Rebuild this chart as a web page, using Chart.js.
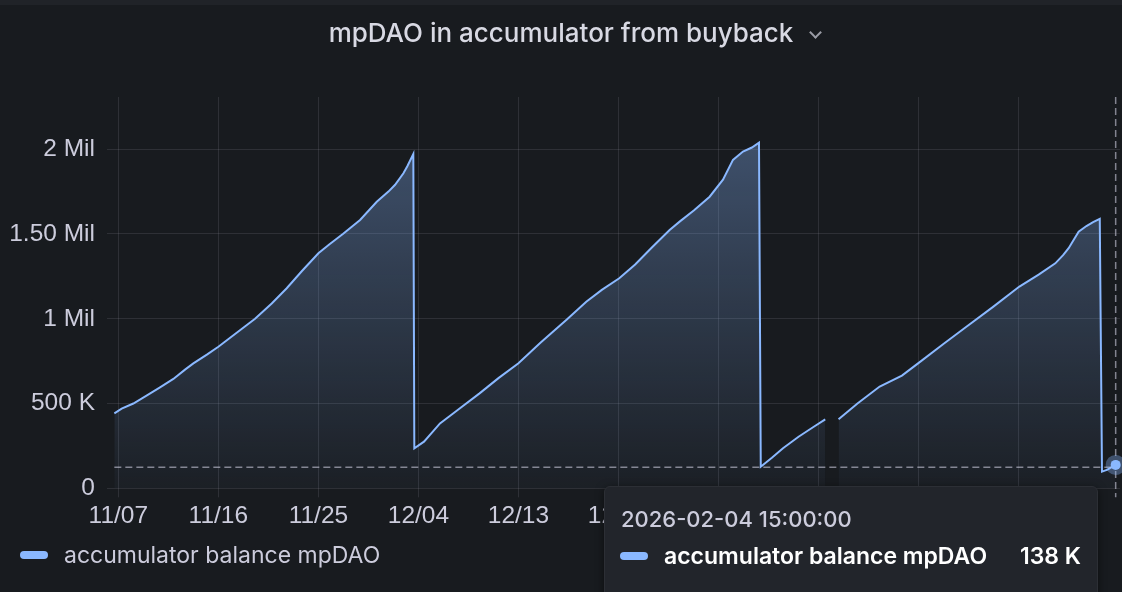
<!DOCTYPE html>
<html>
<head>
<meta charset="utf-8">
<script src="https://cdn.jsdelivr.net/npm/chart.js@4.4.1/dist/chart.umd.min.js"></script>
<style>
html,body{margin:0;padding:0;background:#181b1f;}
#wrap{position:relative;width:1122px;height:592px;overflow:hidden;background:#181b1f;font-family:Inter,"Noto Sans",sans-serif;}
#topbar{position:absolute;left:0;top:0;width:1122px;height:5px;background:#202328;}
#title{position:absolute;left:0;top:16px;width:1122px;text-align:center;color:#d8d9e3;font-size:26px;font-weight:500;line-height:34px;}
#title span{position:relative;}
#chev{position:absolute;right:-27px;top:11px;width:7px;height:7px;border-right:2px solid #9a9ca5;border-bottom:2px solid #9a9ca5;transform:rotate(45deg);}
canvas{position:absolute;left:0;top:0;}
#legend{position:absolute;left:20px;top:540px;height:30px;display:flex;align-items:center;color:#ccccdc;font-size:23px;}
.sw{width:28px;height:8px;border-radius:4px;background:#8ab8ff;margin-right:16px;flex:none;}
#tip{position:absolute;left:604px;top:486px;width:492px;height:120px;background:#22252b;border:1px solid #2c2f35;border-radius:6px;box-shadow:0 2px 8px rgba(0,0,0,0.5);}
#tipDate{position:absolute;left:16px;top:19px;color:#ccccdc;font-size:22px;font-weight:500;}
#tipRow{position:absolute;left:15px;top:55px;width:461px;display:flex;align-items:center;color:#ffffff;font-size:23px;font-weight:600;}
#tipVal{margin-left:auto;}
</style>
</head>
<body>
<div id="wrap">
  <canvas id="c" width="1122" height="592"></canvas>
  <div id="topbar"></div>
  <div id="title"><span>mpDAO in accumulator from buyback<i id="chev"></i></span></div>
  <div id="legend"><div class="sw"></div><span id="legText"></span></div>
  <div id="tip">
    <div id="tipDate"></div>
    <div id="tipRow"><div class="sw"></div><span id="tipName"></span><span id="tipVal"></span></div>
  </div>
</div>
<script>
// ---- data (days since 2025-11-07 00:00) ----
const seriesName = 'accumulator balance mpDAO';
const days = [
  -0.36, 0.3, 1.35, 2.5, 3.75, 4.95, 6.0, 6.75, 8.0, 9.0, 10.5, 12.3, 13.8, 15.15, 16.5, 18.0, 19.0, 20.2, 21.75, 23.25, 24.3, 24.9, 25.65, 26.0, 26.54,
  26.63, 27.5, 28.94, 30.5, 32.5, 34.2, 36.0, 38.0, 40.3, 42.1, 43.5, 45.07, 46.5, 48.0, 49.6, 50.5, 51.8, 53.2, 54.4, 55.3, 56.2, 57.0, 57.64,
  57.8, 58.8, 59.8, 61.2, 62.5, 63.6, 64.2, 64.8, 66.5, 68.5, 70.5, 72.07, 74.2, 76.3, 78.7, 81.07, 82.8, 84.3, 85.0, 85.5, 86.0, 86.4, 87.1, 87.7, 88.3,
  88.5, 89.0, 89.73
];
const balance = [
  442000, 470000, 500000, 545000, 595000, 645000, 700000, 737000, 790000, 835000, 910000, 1000000, 1090000, 1180000, 1280000, 1386000, 1440000, 1500000, 1583000, 1690000, 1750000, 1790000, 1858000, 1900000, 1972000,
  236000, 275000, 383000, 460000, 560000, 650000, 737000, 860000, 993000, 1100000, 1170000, 1239000, 1320000, 1420000, 1524000, 1573000, 1640000, 1720000, 1820000, 1937000, 1986000, 2010000, 2039000,
  127000, 180000, 236000, 304000, 360000, 407000, null, 407000, 500000, 600000, 665000, 743000, 850000, 953000, 1070000, 1190000, 1260000, 1327000, 1375000, 1416000, 1470000, 1514000, 1547000, 1570000, 1589000,
  98000, 110000, 138000
];
const xTickDays = [0, 9, 18, 27, 36, 45, 54, 63, 72, 81];
const xTickLabels = ['11/07', '11/16', '11/25', '12/04', '12/13', '12/22', '12/31', '01/09', '01/18', '01/27'];
const yTickValues = [0, 500000, 1000000, 1500000, 2000000];
const yTickLabels = ['0', '500 K', '1 Mil', '1.50 Mil', '2 Mil'];
const tooltipTime = '2026-02-04 15:00:00';
const tooltipValue = '138 K';
const cursorValue = 124000;

document.getElementById('legText').textContent = seriesName;
document.getElementById('tipName').textContent = seriesName;
document.getElementById('tipDate').textContent = tooltipTime;
document.getElementById('tipVal').textContent = tooltipValue;

const LINE = '#8ab8ff';
const GRID = 'rgba(204,204,220,0.12)';
const AXIS_FONT = { family: '"Liberation Sans", Arial, sans-serif', size: 24.5 };

const crosshair = {
  id: 'crosshair',
  afterDatasetsDraw(chart) {
    const ctx = chart.ctx, ca = chart.chartArea;
    const els = chart.getDatasetMeta(0).data;
    const last = els[els.length - 1], first = els[0];
    const yc = chart.scales.y.getPixelForValue(cursorValue);
    ctx.save();
    ctx.strokeStyle = 'rgba(204,204,220,0.6)';
    ctx.lineWidth = 1.5;
    ctx.setLineDash([7, 4]);
    ctx.beginPath();
    ctx.moveTo(first.x, yc); ctx.lineTo(last.x, yc);
    ctx.moveTo(last.x, ca.top); ctx.lineTo(last.x, ca.bottom + 9);
    ctx.stroke();
    ctx.setLineDash([]);
    ctx.fillStyle = 'rgba(138,184,255,0.35)';
    ctx.beginPath(); ctx.arc(last.x, last.y, 10, 0, Math.PI * 2); ctx.fill();
    ctx.fillStyle = LINE;
    ctx.beginPath(); ctx.arc(last.x, last.y, 5, 0, Math.PI * 2); ctx.fill();
    ctx.restore();
  }
};

new Chart(document.getElementById('c'), {
  type: 'line',
  data: {
    datasets: [{
      label: seriesName,
      data: days.map((d, i) => ({ x: d, y: balance[i] })),
      borderColor: LINE,
      borderWidth: 2,
      pointRadius: 0,
      tension: 0,
      spanGaps: false,
      fill: 'origin',
      backgroundColor: (c) => {
        const ca = c.chart.chartArea;
        if (!ca) return 'rgba(138,184,255,0.2)';
        const g = c.chart.ctx.createLinearGradient(0, ca.top, 0, ca.bottom);
        g.addColorStop(0, 'rgba(138,184,255,0.38)');
        g.addColorStop(1, 'rgba(138,184,255,0.03)');
        return g;
      }
    }]
  },
  options: {
    responsive: false,
    animation: false,
    events: [],
    layout: { padding: { top: 97, right: 2, left: 0, bottom: 0 } },
    plugins: { legend: { display: false }, tooltip: { enabled: false }, title: { display: false } },
    scales: {
      x: {
        type: 'linear',
        min: -1.02,
        max: 90.12,
        afterBuildTicks: (s) => { s.ticks = xTickDays.map(v => ({ value: v })); },
        afterFit: (s) => { s.height = 103.7; },
        ticks: {
          autoSkip: false, maxRotation: 0, padding: 4,
          color: '#ccccdc', font: AXIS_FONT,
          callback: (v, i) => xTickLabels[i]
        },
        grid: { color: GRID, tickColor: GRID, drawTicks: true, tickLength: 9 },
        border: { display: false }
      },
      y: {
        min: 0,
        max: 2308000,
        afterBuildTicks: (s) => { s.ticks = yTickValues.map(v => ({ value: v })); },
        afterFit: (s) => { s.width = 107; },
        ticks: {
          padding: 12, color: '#ccccdc', font: AXIS_FONT,
          callback: (v, i) => yTickLabels[i]
        },
        grid: { color: GRID, drawTicks: false },
        border: { display: false }
      }
    }
  },
  plugins: [crosshair]
});
</script>
</body>
</html>
